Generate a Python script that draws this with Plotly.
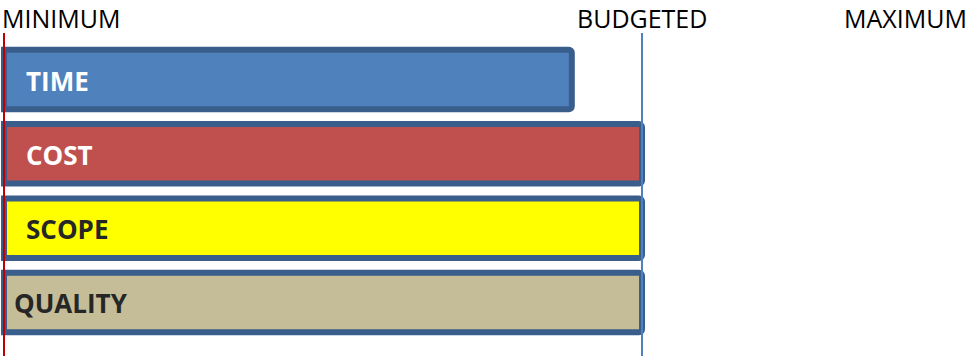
import plotly.graph_objects as go

# Project constraint bars, measured against the budget (0 = minimum, 100 = budgeted)
constraints = ["TIME", "COST", "SCOPE", "QUALITY"]
levels = [89, 100, 100, 100]
fill_colors = ["#4F81BD", "#C0504D", "#FFFF00", "#C4BD97"]
label_colors = ["#FFFFFF", "#FFFFFF", "#262626", "#262626"]
label_indent = [20, 20, 20, 8]

# Reference markers along the top
marker_names = ["MINIMUM", "BUDGETED", "MAXIMUM"]
minimum_level = 0
budget_level = 100

fig = go.Figure()
fig.add_trace(go.Bar(
    y=constraints,
    x=levels,
    orientation="h",
    width=0.8,
    marker=dict(color=fill_colors, line=dict(color="#3A5E8C", width=6), cornerradius=3),
    hoverinfo="skip",
    showlegend=False,
))

annotations = []
for name, col, ind in zip(constraints, label_colors, label_indent):
    annotations.append(dict(
        x=minimum_level, y=name, xref="x", yref="y",
        text=f"<b>{name}</b>", showarrow=False,
        xanchor="left", yanchor="middle", xshift=ind, yshift=-1,
        font=dict(family="Open Sans", size=26, color=col),
    ))

top_font = dict(family="Open Sans", size=25, color="#000000")
annotations += [
    dict(x=0, y=1, xref="paper", yref="paper", yshift=34, text=marker_names[0],
         showarrow=False, xanchor="left", yanchor="top", font=top_font),
    dict(x=budget_level, y=1, xref="x", yref="paper", yshift=34, text=marker_names[1],
         showarrow=False, xanchor="center", yanchor="top", font=top_font),
    dict(x=0.996, y=1, xref="paper", yref="paper", yshift=34, text=marker_names[2],
         showarrow=False, xanchor="right", yanchor="top", font=top_font),
]

shapes = [
    dict(type="line", xref="x", yref="paper", x0=minimum_level, x1=minimum_level, y0=0, y1=1,
         line=dict(color="#C00000", width=2), layer="above"),
    dict(type="line", xref="x", yref="paper", x0=budget_level, x1=budget_level, y0=0, y1=1,
         line=dict(color="#4F81BD", width=2), layer="above"),
]

fig.update_layout(
    width=973, height=356,
    margin=dict(l=0, r=0, t=33, b=0),
    paper_bgcolor="white", plot_bgcolor="white",
    xaxis=dict(range=[-0.627, 151.88], visible=False, fixedrange=True),
    yaxis=dict(range=[3.72, -0.626], visible=False, fixedrange=True),
    annotations=annotations,
    shapes=shapes,
    bargap=0.19,
)

fig.write_html("out.html")
